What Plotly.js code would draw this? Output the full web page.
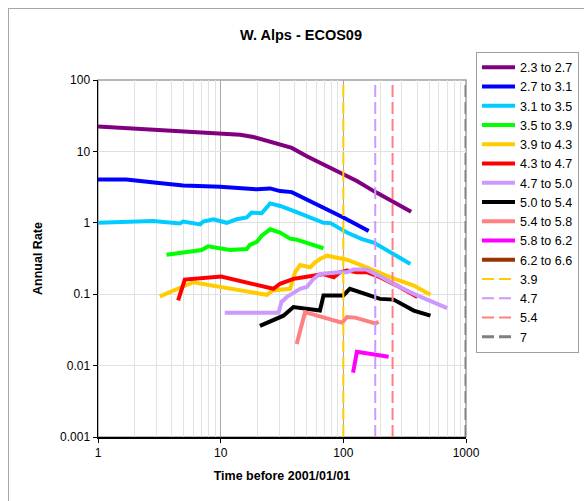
<!DOCTYPE html>
<html>
<head>
<meta charset="utf-8">
<script src="https://cdn.plot.ly/plotly-3.0.1.min.js"></script>
<style>
html,body{margin:0;padding:0;background:#fff;}
#frame{position:absolute;left:8px;top:8px;width:620px;height:540px;border:1px solid #a6a6a6;}
#chart{position:absolute;left:0;top:0;width:584px;height:501px;}
</style>
</head>
<body>
<div id="frame"></div>
<div id="chart"></div>
<script>
// Series: time before 2001/01/01 (t) and annual rate (v)
const t_23_27 = [1, 1.7, 3.0, 4.95, 9.9, 14.4, 18.5, 25.3, 30.5, 38, 50.4, 73.5, 100, 129, 177, 257, 357];
const v_23_27 = [22.4, 21.2, 20.1, 19.1, 17.7, 17.1, 15.9, 13.8, 12.4, 11.2, 8.55, 6.2, 4.75, 3.84, 2.78, 1.92, 1.43];

const t_27_31 = [1, 1.7, 3.0, 4.95, 9.9, 14.4, 19.7, 25.3, 30.5, 38, 50.4, 73.5, 100, 161];
const v_27_31 = [4.05, 4.05, 3.64, 3.34, 3.2, 3.1, 2.94, 3.03, 2.78, 2.69, 2.13, 1.55, 1.19, 0.77];

const t_31_35 = [1, 2.8, 4.65, 4.95, 6.8, 7.2, 8.7, 11.2, 13.5, 16.3, 17.9, 21.6, 25.3, 30.5, 39.2, 50.4, 68.9, 78.5, 107, 142, 177, 352];
const v_31_35 = [1.0, 1.06, 0.98, 1.04, 0.95, 1.04, 1.12, 1.0, 1.12, 1.19, 1.39, 1.36, 1.87, 1.72, 1.47, 1.25, 1.0, 0.99, 0.73, 0.59, 0.53, 0.265];

const t_35_39 = [3.62, 7.0, 7.9, 11.9, 16.3, 17.3, 19.7, 21.6, 25.3, 30.5, 36.8, 41.7, 68.9];
const v_35_39 = [0.357, 0.415, 0.468, 0.415, 0.428, 0.49, 0.54, 0.66, 0.81, 0.73, 0.60, 0.58, 0.44];

const t_39_43 = [3.19, 5.97, 23.8, 26.5, 36.8, 40.5, 44.4, 53.7, 58.9, 64.5, 73.5, 86, 107, 155, 240, 375, 513];
const v_39_43 = [0.093, 0.147, 0.098, 0.113, 0.119, 0.203, 0.257, 0.238, 0.28, 0.311, 0.346, 0.329, 0.304, 0.238, 0.173, 0.132, 0.098];

const t_43_47 = [4.5, 5.1, 10.1, 26.9, 30.5, 34.5, 39.2, 47.4, 61, 68.9, 83.6, 94, 107, 129, 155, 199, 273, 401];
const v_43_47 = [0.082, 0.16, 0.177, 0.119, 0.14, 0.152, 0.164, 0.173, 0.182, 0.192, 0.173, 0.203, 0.214, 0.203, 0.203, 0.173, 0.132, 0.091];

const t_47_50 = [10.8, 29.6, 31.4, 32.5, 34.5, 40.5, 44.4, 50.4, 57.1, 64.5, 78.5, 91.4, 107, 121, 155, 199, 273, 375, 702];
const v_47_50 = [0.055, 0.055, 0.079, 0.082, 0.091, 0.107, 0.119, 0.126, 0.164, 0.192, 0.199, 0.203, 0.203, 0.221, 0.221, 0.179, 0.132, 0.101, 0.064];

const t_50_54 = [20.9, 32.5, 39.2, 64.5, 68.9, 100, 113, 155, 199, 257, 375, 513];
const v_50_54 = [0.036, 0.050, 0.066, 0.059, 0.096, 0.096, 0.119, 0.101, 0.086, 0.084, 0.059, 0.050];

const t_54_58 = [41.7, 48.7, 97.6, 107, 125, 182, 194];
const v_54_58 = [0.020, 0.056, 0.040, 0.048, 0.047, 0.039, 0.041];

const t_58_62 = [120, 129, 234];
const v_58_62 = [0.008, 0.0156, 0.0133];

// 6.2 to 6.6: no plotted values in the reference (legend entry only)
const t_62_66 = [null];
const v_62_66 = [null];

// Completeness times (vertical dashed lines)
const compNames = ['3.9', '4.7', '5.4', '7'];
const compTimes = [100, 182, 252, 1000];
const compYRange = [0.001, 100];

const seriesNames = ['2.3 to 2.7','2.7 to 3.1','3.1 to 3.5','3.5 to 3.9','3.9 to 4.3','4.3 to 4.7','4.7 to 5.0','5.0 to 5.4','5.4 to 5.8','5.8 to 6.2','6.2 to 6.6'];
const seriesT = [t_23_27,t_27_31,t_31_35,t_35_39,t_39_43,t_43_47,t_47_50,t_50_54,t_54_58,t_58_62,t_62_66];
const seriesV = [v_23_27,v_27_31,v_31_35,v_35_39,v_39_43,v_43_47,v_47_50,v_50_54,v_54_58,v_58_62,v_62_66];
const seriesColors = ['#800080','#0000FF','#00CCFF','#00FF00','#FFCC00','#FF0000','#CC99FF','#000000','#FF8080','#FF00FF','#993300'];
const compColors = ['#FFCC00','#CC99FF','#FF8080','#808080'];
const compWidths = [2, 2, 2, 3];

const xTickVals = [1, 10, 100, 1000];
const xTickText = ['1', '10', '100', '1000'];
const yTickVals = [0.001, 0.01, 0.1, 1, 10, 100];
const yTickText = ['0.001', '0.01', '0.1', '1', '10', '100'];

const traces = [];
seriesNames.forEach((n, i) => {
  traces.push({
    type: 'scatter', mode: 'lines', name: n,
    x: seriesT[i], y: seriesV[i],
    line: {color: seriesColors[i], width: 4},
    showlegend: true
  });
});
compNames.forEach((n, i) => {
  traces.push({
    type: 'scatter', mode: 'lines', name: n,
    x: [compTimes[i], compTimes[i]], y: compYRange,
    line: {color: compColors[i], width: compWidths[i], dash: '12px,5px'}
  });
});

const FONT = '"Liberation Sans", Arial, sans-serif';

const layout = {
  width: 584, height: 501,
  margin: {l: 98, r: 118, t: 80, b: 63.5, autoexpand: false},
  paper_bgcolor: 'rgba(0,0,0,0)',
  plot_bgcolor: '#ffffff',
  font: {family: FONT, size: 12, color: '#000'},
  showlegend: true,
  title: {text: '<b>W. Alps - ECOS09</b>', font: {family: FONT, size: 14.5, color: '#000'},
          x: 301/584, xanchor: 'center', y: 1 - 34.5/501, yanchor: 'middle'},
  xaxis: {
    type: 'log', range: [0, 3],
    tickmode: 'array', tickvals: xTickVals, ticktext: xTickText,
    showgrid: true, gridcolor: '#a8a8a8', gridwidth: 1,
    minor: {dtick: 'D1', showgrid: true, gridcolor: '#e2e2e2', gridwidth: 1, ticks: ''},
    showline: true, linecolor: '#000', linewidth: 1.5, mirror: false,
    ticks: 'outside', ticklen: 4, tickcolor: '#000',
    zeroline: false, automargin: false,
    tickfont: {family: FONT, size: 12},
    title: {text: '<b>Time before 2001/01/01</b>', font: {family: FONT, size: 12.5}, standoff: 12}
  },
  yaxis: {
    type: 'log', range: [-3, 2],
    tickmode: 'array', tickvals: yTickVals, ticktext: yTickText,
    showgrid: true, gridcolor: '#e0e0e0', gridwidth: 1,
    showline: true, linecolor: '#000', linewidth: 1.5, mirror: false,
    ticks: 'outside', ticklen: 4, tickcolor: '#000',
    zeroline: false, automargin: false,
    tickfont: {family: FONT, size: 12},
    title: {text: '<b>Annual Rate</b>', font: {family: FONT, size: 12.5}, standoff: 14}
  },
  shapes: [{
    type: 'rect', xref: 'paper', yref: 'paper', x0: 0, x1: 1, y0: 0, y1: 1,
    line: {color: '#a0a0a0', width: 1.5}, layer: 'below'
  }],
  legend: {
    x: (476 - 98) / 368, xanchor: 'left',
    y: 1 + (80 - 51.5) / 357.5, yanchor: 'top',
    bgcolor: '#ffffff', bordercolor: '#a0a0a0', borderwidth: 1,
    font: {family: FONT, size: 12.5},
    itemwidth: 33,
    traceorder: 'normal', maxheight: 420
  }
};

Plotly.newPlot('chart', traces, layout, {displayModeBar: false, staticPlot: true});
</script>
</body>
</html>
